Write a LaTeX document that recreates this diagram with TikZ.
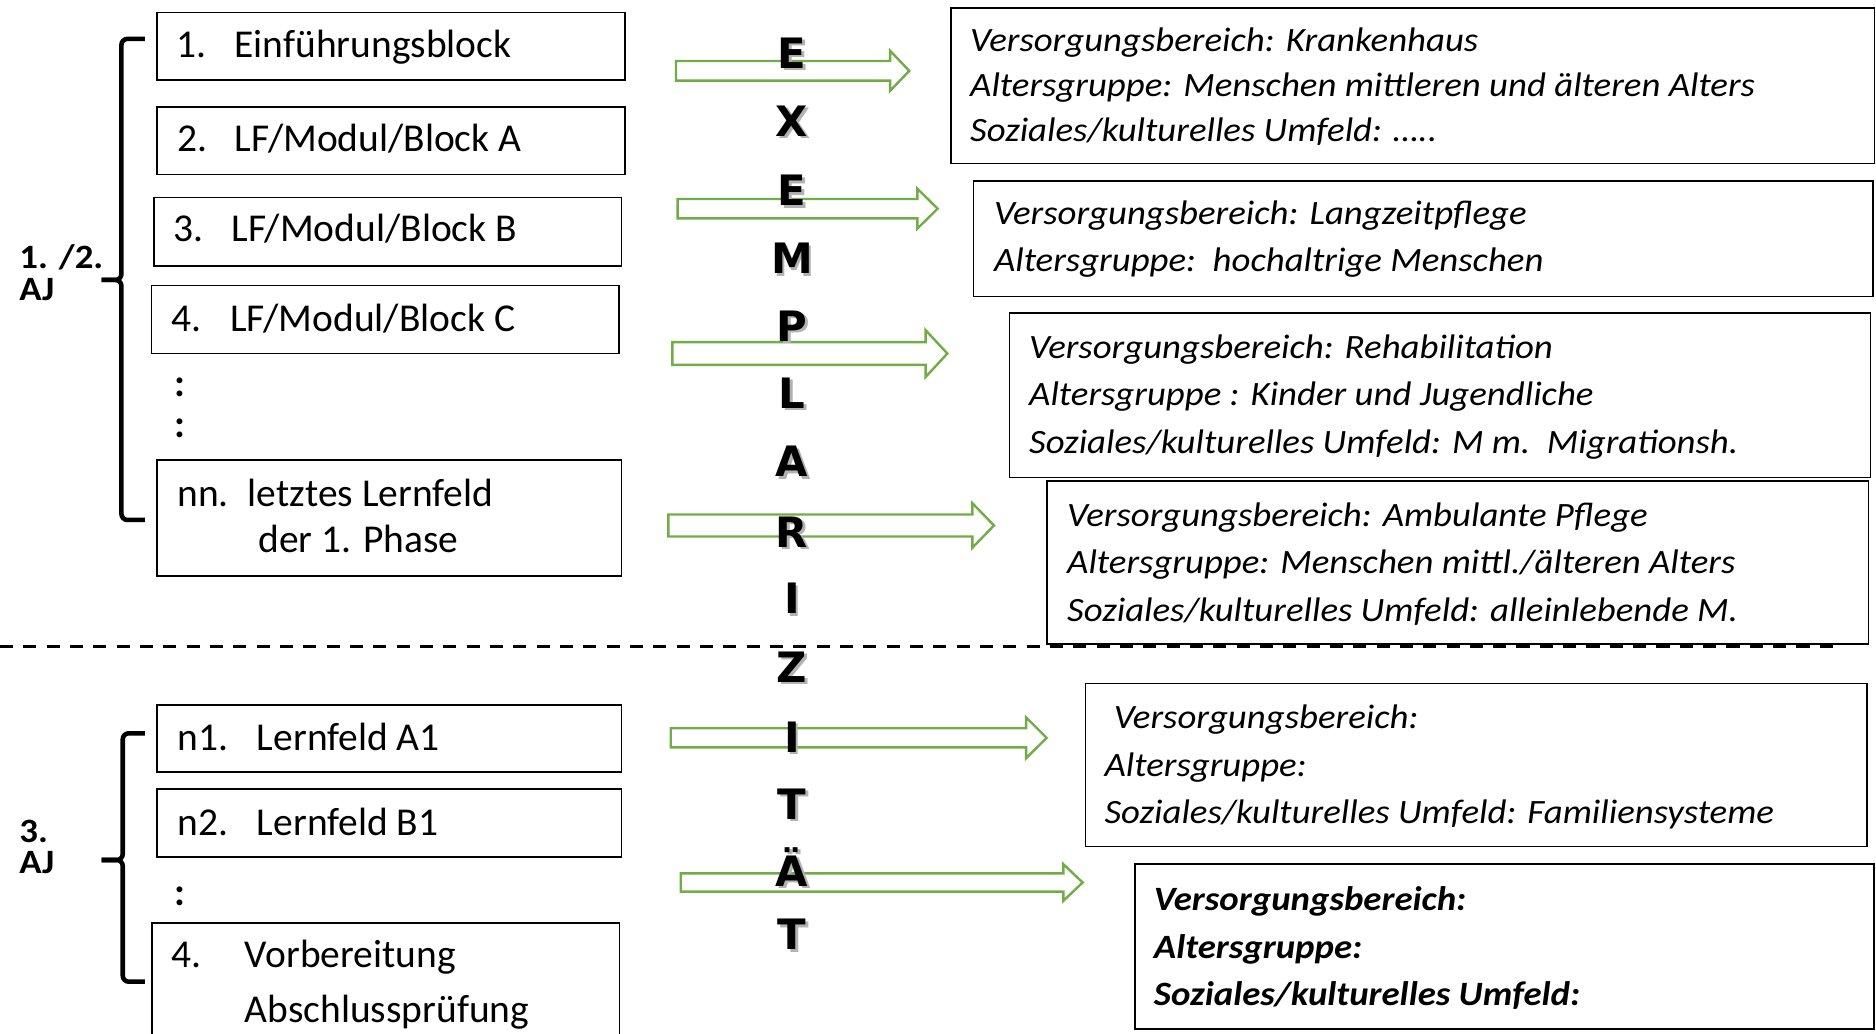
\documentclass[tikz,border=0pt]{standalone}
\usepackage{fontspec}
\setmainfont{Carlito}
\newfontfamily\rfont{Carlito}[FakeStretch=1.08]
\newfontfamily\letterfont{DejaVu Sans}
\definecolor{arrowgreen}{HTML}{70AD47}
\newcommand\blockarrow[7]{%
  \draw[garrow] ({#2},{#5-#6}) coordinate (#1) -- ({#3},{#5-#6}) -- ({#3},{#5-#7}) -- ({#4},{#5})
    -- ({#3},{#5+#7}) -- ({#3},{#5+#6}) -- ({#2},{#5+#6}) -- cycle;}
\tikzset{
  box/.style={draw=black, line width=1.3pt, inner sep=0pt, anchor=north west},
  ltxt/.style={anchor=base west, inner sep=0pt, font=\fontsize{33}{38}\selectfont},
  colon/.style={anchor=base west, inner sep=0pt, font=\fontsize{33}{38}\selectfont\bfseries},
  ltxtb/.style={anchor=base west, inner sep=0pt, font=\fontsize{28.5}{34}\selectfont\rfont\bfseries},
  rtxt/.style={anchor=base west, inner sep=0pt, font=\fontsize{28.5}{32}\selectfont\rfont\itshape},
  rtxtb/.style={anchor=base west, inner sep=0pt, font=\fontsize{28.5}{32}\selectfont\rfont\bfseries\itshape},
  letter/.style={anchor=base, inner sep=0pt, font=\fontsize{35}{40}\selectfont\letterfont\bfseries},
  lshadow/.style={letter, text=black!30},
  garrow/.style={draw=arrowgreen, line width=2pt, fill=white, line join=miter},
  bracket/.style={line width=3.8pt, rounded corners=5pt},
  sep/.style={line width=2.4pt, dash pattern=on 11pt off 8.5pt}
}
\begin{document}
\begin{tikzpicture}[x=1pt,y=-1pt]
\useasboundingbox (0,0) rectangle (1568,864);

% ---------- left boxes ----------
\node[box, minimum width=391pt, minimum height=56.2pt] (b1) at (130.6,9.8) {};
\node[box, minimum width=391pt, minimum height=56.6pt] (b2) at (130.6,88.6) {};
\node[box, minimum width=390.7pt, minimum height=57.1pt] (b3) at (128,164.4) {};
\node[box, minimum width=390.8pt, minimum height=56.8pt] (b4) at (126,238) {};
\node[box, minimum width=388.1pt, minimum height=97pt] (bnn) at (130.6,383.6) {};
\node[box, minimum width=388.1pt, minimum height=56pt] (bn1) at (130.6,588.5) {};
\node[box, minimum width=388.1pt, minimum height=56.5pt] (bn2) at (130.6,659) {};
\node[box, minimum width=390.5pt, minimum height=110pt] (b4b) at (126.5,770.6) {};

\node[ltxt] (b1n) at (147.4,47.9) {1.};
\node[ltxt] (b1t) at (195.9,47.9) {Einführungsblock};
\node[ltxt] (b2n) at (148.3,126.8) {2.};
\node[ltxt] (b2t) at (195.9,126.8) {LF/Modul/Block A};
\node[ltxt] (b3n) at (144.8,202) {3.};
\node[ltxt] (b3t) at (193.3,202) {LF/Modul/Block B};
\node[ltxt] (b4n) at (142.9,277.2) {4.};
\node[ltxt] (b4t) at (192.2,277.2) {LF/Modul/Block C};
\node[colon] (c1) at (145.5,331) {:};
\node[colon] (c2) at (145.5,366) {:};
\node[ltxt] (bnnn) at (148,423) {nn.};
\node[ltxt] (bnnt) at (207,423) {letztes Lernfeld};
\node[ltxt] (bnnu) at (215.7,462) {der 1. Phase};
\node[ltxt] (bn1n) at (148,627.5) {n1.};
\node[ltxt] (bn1t) at (214.6,627.5) {Lernfeld A1};
\node[ltxt] (bn2n) at (148,698) {n2.};
\node[ltxt] (bn2t) at (214.6,698) {Lernfeld B1};
\node[colon] (c3) at (145.5,757) {:};
\node[ltxt] (b4bn) at (143,809) {4.};
\node[ltxt] (b4bt) at (204.5,809) {Vorbereitung};
\node[ltxt] (b4bu) at (204.5,855) {Abschlussprüfung};

% ---------- year labels and brackets ----------
\node[ltxtb] (aj1a) at (16,224.5) {1. /2.};
\node[ltxtb] (aj1b) at (16,251) {AJ};
\node[ltxtb] (aj3a) at (16,703.8) {3.};
\node[ltxtb] (aj3b) at (16,730.2) {AJ};

\coordinate (br1t) at (121,32.5);
\coordinate (br1m) at (85,234);
\coordinate (br1b) at (121,434.6);
\draw[bracket] (br1t) -- (101.5,32.5) -- (101.5,234) -- (br1m);
\draw[bracket] (br1m) -- (101.5,234) -- (101.5,434.6) -- (br1b);
\coordinate (br3t) at (121,612.9);
\coordinate (br3m) at (85,718.8);
\coordinate (br3b) at (121,820.5);
\draw[bracket] (br3t) -- (102.6,612.9) -- (102.6,718.8) -- (br3m);
\draw[bracket] (br3m) -- (102.6,718.8) -- (102.6,820.5) -- (br3b);

% ---------- separator ----------
\coordinate (sepL) at (0,540.3);
\coordinate (sepR) at (1540,540.3);
\draw[sep] (sepL) -- (sepR);

% ---------- arrows ----------
\blockarrow{a1}{565}{744}{760}{59.2}{8.2}{16.7}
\blockarrow{a2}{566.4}{766.7}{783.7}{174.4}{8.1}{16.7}
\blockarrow{a3}{562}{773.7}{791.8}{295.5}{9.5}{19.5}
\blockarrow{a4}{558.6}{812.7}{830.8}{439.2}{9.2}{18.6}
\blockarrow{a5}{560.6}{857.6}{874.8}{616.7}{8}{17.1}
\blockarrow{a6}{569}{888.8}{904.9}{737.6}{7.6}{15.3}

% ---------- EXEMPLARIZITAET ----------
\foreach \ch/\yy [count=\k] in {E/57,X/114,E/172,M/229,P/285.5,L/341.5,A/398.5,R/457.5,I/513,Z/570.5,I/629,T/685,Ä/741,T/794}{
  \node[lshadow] (S\k) at ({664},{\yy+2}) {\ch};
  \node[letter] (L\k) at ({662},{\yy}) {\ch};
}

% ---------- right boxes ----------
\node[box, minimum width=772pt, minimum height=129.9pt] (r1) at (794,6.1) {};
\node[box, minimum width=752pt, minimum height=96.5pt] (r2) at (813,150.5) {};
\node[box, minimum width=719.6pt, minimum height=137.4pt] (r3) at (843,261) {};
\node[box, minimum width=686.4pt, minimum height=136.5pt] (r4) at (874.6,401.2) {};
\node[box, minimum width=653.5pt, minimum height=136.4pt] (r5) at (906.5,570.6) {};
\node[box, minimum width=617.7pt, minimum height=137.9pt] (r6) at (947.8,721.6) {};

\node[rtxt] (r1a) at (810.7,43.2) {Versorgungsbereich: Krankenhaus};
\node[rtxt] (r1b) at (810.7,80.8) {Altersgruppe: Menschen mittleren und älteren Alters};
\node[rtxt] (r1c) at (810.7,118.4) {Soziales/kulturelles Umfeld: …..};

\node[rtxt] (r2a) at (830.6,188) {Versorgungsbereich: Langzeitpflege};
\node[rtxt] (r2b) at (830.6,227) {Altersgruppe:\ \ hochaltrige Menschen};

\node[rtxt] (r3a) at (860,299.5) {Versorgungsbereich: Rehabilitation};
\node[rtxt] (r3b) at (860,339.3) {Altersgruppe : Kinder und Jugendliche};
\node[rtxt] (r3c) at (860,378.9) {Soziales/kulturelles Umfeld: M m.\ \ Migrationsh.};

\node[rtxt] (r4a) at (891.8,440.2) {Versorgungsbereich: Ambulante Pflege};
\node[rtxt] (r4b) at (891.8,479.2) {Altersgruppe: Menschen mittl./älteren Alters};
\node[rtxt] (r4c) at (891.8,519.6) {Soziales/kulturelles Umfeld: alleinlebende M.};

\node[rtxt] (r5a) at (930.8,608.8) {Versorgungsbereich:};
\node[rtxt] (r5b) at (923,649.2) {Altersgruppe:};
\node[rtxt] (r5c) at (923,688.7) {Soziales/kulturelles Umfeld: Familiensysteme};

\node[rtxtb] (r6a) at (964.3,760.6) {Versorgungsbereich:};
\node[rtxtb] (r6b) at (964.3,801) {Altersgruppe:};
\node[rtxtb] (r6c) at (964.3,840) {Soziales/kulturelles Umfeld:};
\end{tikzpicture}
\end{document}
